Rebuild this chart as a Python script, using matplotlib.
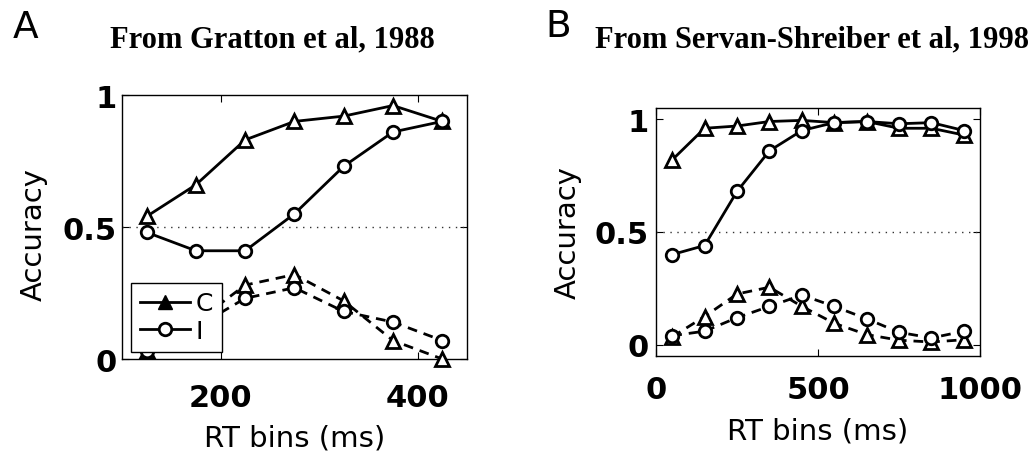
import matplotlib
matplotlib.use("Agg")
import matplotlib.pyplot as plt
from matplotlib.lines import Line2D

# Panel A - Gratton et al, 1988
rt_a = [125, 175, 225, 275, 325, 375, 425]
a_corr_c = [0.54, 0.66, 0.83, 0.90, 0.92, 0.96, 0.90]
a_corr_i = [0.48, 0.41, 0.41, 0.55, 0.73, 0.86, 0.90]
a_err_c = [0.03, 0.14, 0.28, 0.32, 0.22, 0.07, 0.0]
a_err_i = [0.03, 0.12, 0.23, 0.27, 0.18, 0.14, 0.07]

# Panel B - Servan-Shreiber et al, 1998
rt_b = [50, 150, 250, 350, 450, 550, 650, 750, 850, 950]
b_corr_c = [0.82, 0.96, 0.97, 0.99, 0.995, 0.985, 0.99, 0.96, 0.96, 0.93]
b_corr_i = [0.40, 0.44, 0.68, 0.86, 0.95, 0.985, 0.99, 0.98, 0.985, 0.95]
b_err_c = [0.035, 0.125, 0.225, 0.255, 0.17, 0.095, 0.045, 0.02, 0.012, 0.022]
b_err_i = [0.04, 0.06, 0.12, 0.17, 0.22, 0.17, 0.115, 0.055, 0.03, 0.06]

plt.rcParams['font.family'] = 'DejaVu Sans'

fig = plt.figure(figsize=(10.31, 4.52), dpi=100)
axA = fig.add_axes([0.1183, 0.2035, 0.3346, 0.5841])
axB = fig.add_axes([0.6363, 0.2102, 0.3143, 0.5487])

lw = 2
tri = dict(marker='^', ms=10, mfc='white', mec='k', mew=2, color='k', lw=lw, clip_on=False)
circ = dict(marker='o', ms=9, mfc='white', mec='k', mew=2, color='k', lw=lw, clip_on=False)


def draw(ax, x, cc, ci, ec, ei):
    ax.axhline(0.5, color='#333333', lw=1, dashes=(1, 4))
    ax.plot(x, cc, ls='-', zorder=3, **tri)
    ax.plot(x, ci, ls='-', zorder=3, **circ)
    ax.plot(x, ec, dashes=(3.5, 2.5), zorder=3, **tri)
    ax.plot(x, ei, dashes=(3.5, 2.5), zorder=3, **circ)
    ax.tick_params(direction='in', length=5, width=0.8, top=True, right=True,
                   labelsize=22)
    for s in ax.spines.values():
        s.set_linewidth(1)


draw(axA, rt_a, a_corr_c, a_corr_i, a_err_c, a_err_i)
axA.set_xlim(100, 450)
axA.set_ylim(0, 1)
axA.set_xticks([200, 400])
axA.set_yticks([0, 0.5, 1])
axA.set_yticklabels(['0', '0.5', '1'], fontweight='bold')
axA.set_xticklabels(['200', '400'], fontweight='bold')
axA.tick_params(axis='x', pad=17)
axA.tick_params(axis='y', pad=4)

draw(axB, rt_b, b_corr_c, b_corr_i, b_err_c, b_err_i)
axB.set_xlim(0, 1000)
axB.set_ylim(-0.05, 1.05)
axB.set_xticks([0, 500, 1000])
axB.set_yticks([0, 0.5, 1])
axB.set_yticklabels(['0', '0.5', '1'], fontweight='bold')
axB.set_xticklabels(['0', '500', '1000'], fontweight='bold')
axB.tick_params(axis='x', pad=14)
axB.tick_params(axis='y', pad=5)

for ax, xl, yl in [(axA, (0.5, -0.245), (-0.215, 0.477)), (axB, (0.5, -0.245), (-0.23, 0.5))]:
    ax.set_xlabel('RT bins (ms)', fontsize=21)
    ax.set_ylabel('Accuracy', fontsize=21)
    ax.xaxis.set_label_coords(*xl)
    ax.yaxis.set_label_coords(*yl)

handles = [Line2D([], [], color='k', lw=lw, marker='^', ms=10, mfc='k', mec='k'),
           Line2D([], [], color='k', lw=lw, marker='o', ms=9, mfc='white', mec='k', mew=2)]
leg = axA.legend(handles, ['C', 'I'], loc='lower left', bbox_to_anchor=(0.026, 0.027),
                 borderaxespad=0, fontsize=18, handlelength=2.0, handletextpad=0.25,
                 borderpad=0.35, labelspacing=0.15, fancybox=False, framealpha=1,
                 edgecolor='k')
leg.get_frame().set_linewidth(1)
leg.set_zorder(5)

fig.text(0.012, 0.916, 'A', fontsize=27, va='baseline')
fig.text(0.529, 0.918, 'B', fontsize=27, va='baseline')
fig.text(110 / 1031, 0.896, 'From Gratton et al, 1988', fontsize=22, fontweight='bold',
         family='Liberation Serif', va='baseline')
fig.text(595 / 1031, 0.896, 'From Servan-Shreiber et al, 1998', fontsize=22, fontweight='bold',
         family='Liberation Serif', va='baseline')

fig.savefig('out.png', dpi=100)
